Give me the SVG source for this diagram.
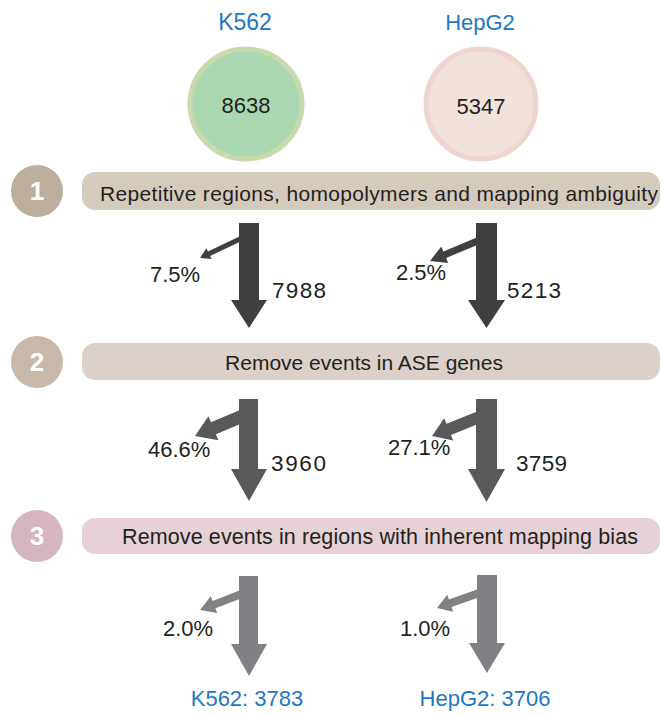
<svg xmlns="http://www.w3.org/2000/svg" width="662" height="715" viewBox="0 0 662 715">
<style>
text{font-family:"Liberation Sans",Arial,sans-serif;}
.lbl{font-size:22px;fill:#231f20;}
.cnt{font-size:22.5px;fill:#231f20;}
.blue{font-size:22px;fill:#1f78c1;text-anchor:middle;}
.bar{font-size:21px;fill:#231f20;}
.num{font-size:26px;font-weight:bold;fill:#ffffff;text-anchor:middle;}
.r1{fill:#404041;}
.r2{fill:#58595b;}
.r3{fill:#808184;}
</style>
<rect width="662" height="715" fill="#ffffff"/>
<g id="k562-start">
<text class="blue" x="245" y="30" style="font-size:23px">K562</text>
<ellipse cx="246" cy="104" rx="56" ry="55" fill="#a9d8b1" stroke="#c9d9ac" stroke-width="5"/>
<text class="lbl" x="246" y="113" text-anchor="middle">8638</text>
</g>
<g id="hepg2-start">
<text class="blue" x="480" y="30">HepG2</text>
<ellipse cx="481" cy="104" rx="55" ry="55" fill="#f2e2dc" stroke="#eed5d0" stroke-width="5"/>
<text class="lbl" x="481" y="114" text-anchor="middle">5347</text>
</g>
<g id="step1">
<circle cx="37" cy="191" r="26" fill="#bcae9c"/>
<text class="num" x="37" y="200">1</text>
<rect x="82" y="172" width="578" height="38" rx="13" fill="#d5cbbd"/>
<text class="bar" x="100" y="201" textLength="558">Repetitive regions, homopolymers and mapping ambiguity</text>
</g>
<g id="step2">
<circle cx="37" cy="362" r="26" fill="#c7b8a9"/>
<text class="num" x="37" y="371">2</text>
<rect x="82" y="343" width="578" height="37" rx="13" fill="#dcd1ca"/>
<text class="bar" x="364" y="370" text-anchor="middle">Remove events in ASE genes</text>
</g>
<g id="step3">
<circle cx="37" cy="536" r="26" fill="#d5b6bf"/>
<text class="num" x="37" y="545">3</text>
<rect x="82" y="518" width="578" height="36" rx="13" fill="#e5d1d6"/>
<text class="bar" x="122" y="544" textLength="516" style="font-size:21.5px">Remove events in regions with inherent mapping bias</text>
</g>
<g id="connectors">
<polygon class="r1" points="239,223 259,223 259,300 267,300 249,328 231,300 239,300"/>
<polygon class="r1" points="238.9,236.7 207.9,251.4 206.4,248.3 200,258 211.6,259.1 210.1,256.0 241.1,241.3"/>
<polygon class="r1" points="476,223 497,223 497,300 505,300 486.5,328 468,300 476,300"/>
<polygon class="r1" points="478.6,236.8 443.4,251.6 441.3,246.5 430,261 448.2,263.1 446.1,258.0 481.4,243.2"/>
<polygon class="r2" points="239,399 258,399 258,469 267,469 249,501 231,469 239,469"/>
<polygon class="r2" points="242.5,409.0 210.9,422.3 208.4,416.3 195,436 218.4,440.3 215.9,434.3 247.5,421.0"/>
<polygon class="r2" points="476,399 497,399 497,469 505,469 486.5,502 468,469 476,469"/>
<polygon class="r2" points="479.8,410.4 446.5,423.7 444.2,418.2 432,436 453.2,440.4 450.9,434.9 484.2,421.6"/>
<polygon class="r3" points="239,576 258,576 258,644 267,644 249,676 231,644 239,644"/>
<polygon class="r3" points="242.6,589.3 212.6,600.9 210.8,596.2 200,610 217.2,613.0 215.4,608.3 245.4,596.7"/>
<polygon class="r3" points="477,575 497,575 497,643 505,643 487,673 469,643 477,643"/>
<polygon class="r3" points="480.7,588.2 448.9,599.5 447.2,594.8 437,608 453.2,611.8 451.5,607.1 483.3,595.8"/>
</g>
<g id="labels">
<text class="lbl" x="150" y="282">7.5%</text>
<text class="cnt" x="272" y="298" textLength="54">7988</text>
<text class="lbl" x="396" y="280">2.5%</text>
<text class="cnt" x="507" y="298" textLength="54">5213</text>
<text class="lbl" x="148" y="457">46.6%</text>
<text class="cnt" x="271" y="471" textLength="55">3960</text>
<text class="lbl" x="388" y="455">27.1%</text>
<text class="cnt" x="516" y="471" textLength="51">3759</text>
<text class="lbl" x="163" y="636">2.0%</text>
<text class="lbl" x="400" y="636">1.0%</text>
</g>
<g id="k562-final"><text class="blue" x="247" y="706">K562: 3783</text></g>
<g id="hepg2-final"><text class="blue" x="485" y="706">HepG2: 3706</text></g>
</svg>
